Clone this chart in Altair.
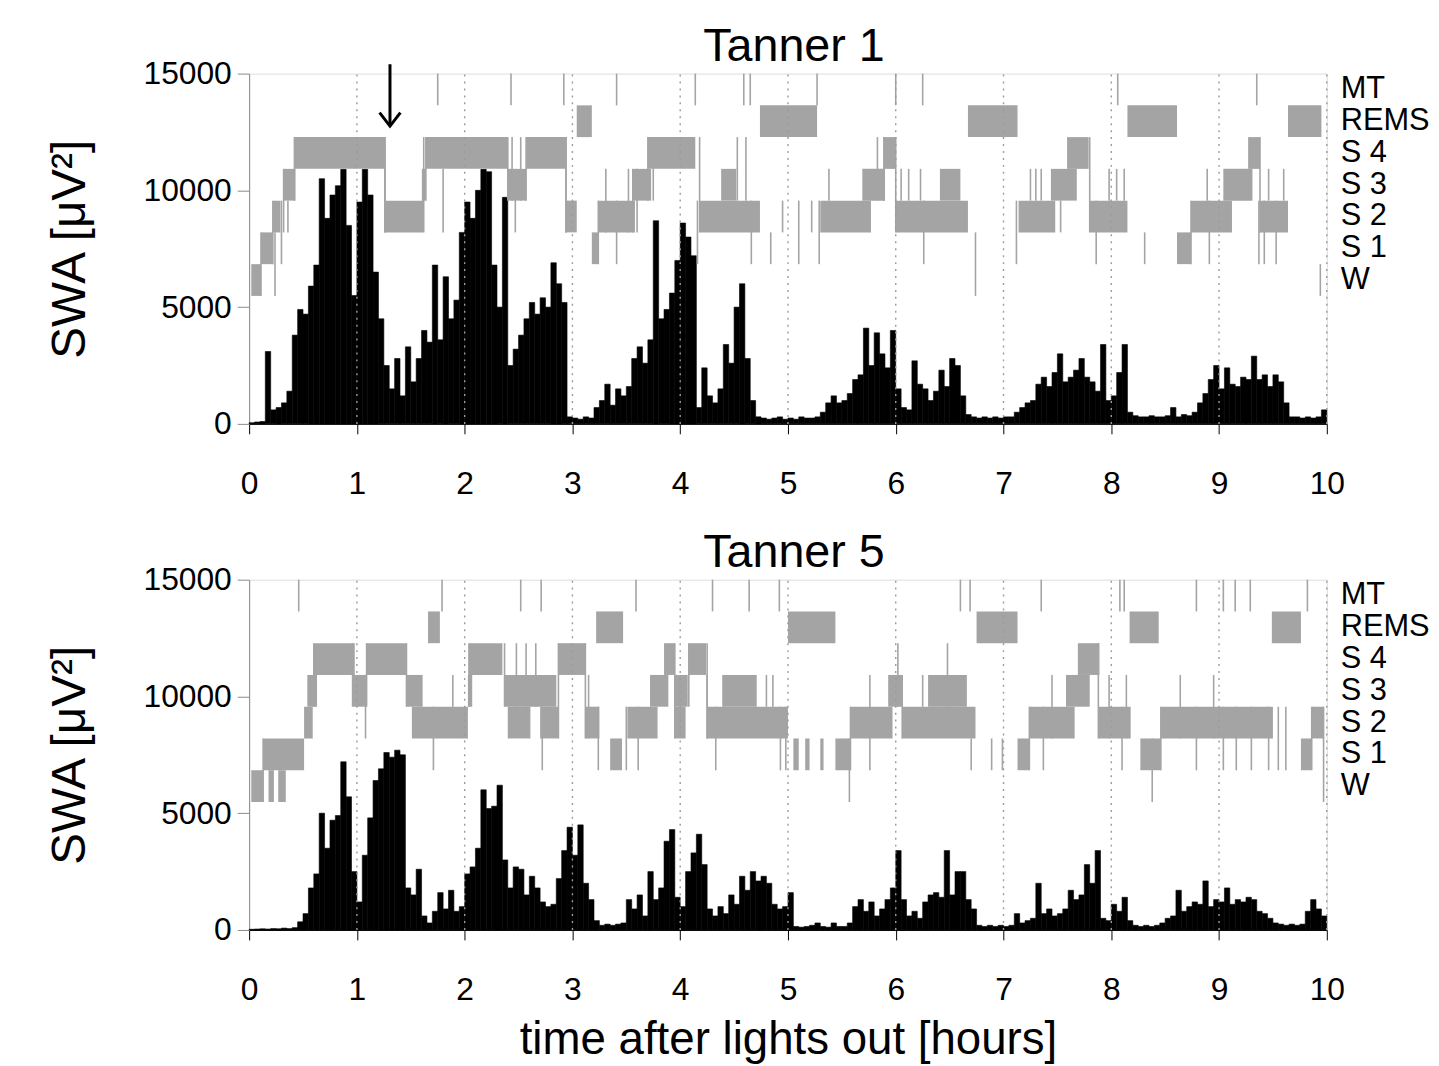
import altair as alt
import pandas as pd

FONT = "Liberation Sans"
GRAY = "#a4a4a4"
BIN = 0.05
HOURS = list(range(0, 11))
GRID_HOURS = list(range(1, 11))
Y_TICKS = [0, 5000, 10000, 15000]
STAGE_NAMES = ["W", "S 1", "S 2", "S 3", "S 4", "REMS", "MT"]
BAND_BASE = 5480
BAND_STEP = 1360

# SWA per 3-minute bin (0.05 h), Tanner 1
swa_tanner1 = [
    50, 80, 100, 3100, 600, 700, 900, 1400, 3800, 4900,
    4700, 5900, 6800, 10500, 8800, 9800, 10200, 10900, 8500, 5500,
    9500, 10900, 9800, 6500, 4500, 2500, 1500, 2800, 1200, 3300,
    1800, 2800, 4000, 3500, 6800, 3600, 6300, 4500, 5300, 8200,
    9500, 8800, 10000, 10900, 10800, 6800, 5000, 9700, 2500, 3200,
    3800, 4500, 5200, 4700, 5400, 5000, 6900, 6000, 5200, 300,
    250, 200, 300, 250, 700, 1000, 1700, 800, 1500, 1200,
    1600, 2800, 3300, 2600, 3600, 8700, 4500, 4900, 5600, 7000,
    8600, 8000, 7200, 700, 2400, 1200, 900, 1500, 3400, 2600,
    5000, 6000, 2800, 1000, 300, 250, 200, 250, 300, 200,
    250, 200, 300, 250, 250, 300, 500, 900, 1200, 900,
    1000, 1300, 1900, 2100, 4100, 2500, 3900, 3000, 2400, 4000,
    1500, 700, 600, 2700, 1700, 1500, 1000, 1400, 2300, 1600,
    2800, 2500, 1200, 400, 300, 250, 300, 250, 300, 250,
    300, 300, 500, 700, 900, 1000, 1700, 2000, 1600, 2200,
    3000, 1800, 2000, 2300, 2800, 2000, 1800, 1400, 3400, 1000,
    1200, 2200, 3400, 500, 350, 300, 300, 350, 300, 300,
    350, 700, 300, 400, 350, 500, 900, 1300, 1900, 2500,
    1500, 2400, 1700, 1600, 2000, 1900, 2900, 1900, 2100, 1600,
    2100, 1800, 900, 300, 300, 250, 300, 250, 300, 600,
]

# SWA per 3-minute bin (0.05 h), Tanner 5
swa_tanner5 = [
    30, 40, 50, 40, 60, 50, 80, 60, 100, 350,
    700, 1800, 2400, 5000, 3500, 4700, 4900, 7200, 5700, 2500,
    1200, 3200, 4800, 6400, 6900, 7600, 7400, 7700, 7500, 1800,
    1500, 2600, 600, 300, 800, 1600, 900, 1700, 800, 1000,
    2400, 2700, 3500, 6000, 5200, 5300, 6200, 3000, 1800, 2700,
    2600, 1500, 2300, 1800, 1200, 1000, 1100, 2200, 3400, 4400,
    3200, 4500, 2000, 1300, 400, 200, 250, 200, 250, 300,
    1300, 900, 1500, 600, 2500, 1300, 1800, 3800, 4300, 1400,
    1000, 2500, 3300, 4100, 2800, 900, 600, 1000, 700, 1500,
    1100, 2300, 1700, 2500, 2100, 2300, 2000, 1100, 900, 1000,
    1600, 150, 120, 150, 200, 300, 150, 120, 300, 150,
    150, 300, 1000, 1300, 800, 1200, 600, 900, 1300, 1800,
    3400, 1300, 600, 800, 500, 1200, 1500, 1600, 1400, 3400,
    1500, 2500, 2500, 1300, 900, 200, 150, 200, 150, 200,
    150, 200, 700, 300, 400, 500, 2000, 700, 900, 600,
    700, 900, 1700, 1300, 1500, 2800, 2000, 3400, 500, 400,
    1100, 800, 1400, 400, 200, 150, 200, 150, 200, 300,
    500, 600, 1700, 800, 1000, 1200, 1100, 2100, 1000, 1300,
    1200, 1800, 1100, 1300, 1200, 1400, 1300, 800, 700, 500,
    300, 250, 200, 250, 200, 250, 800, 1300, 900, 600,
]

# hypnogram blocks: (start h, end h, stage index 0=W .. 5=REMS)
blocks_tanner1 = [
    (0.02, 0.11, 0), (0.11, 0.22, 1), (0.22, 0.29, 2), (0.32, 0.43, 3),
    (0.42, 1.26, 4), (1.26, 1.61, 2), (1.61, 1.64, 3), (1.64, 2.40, 4),
    (2.40, 2.57, 3), (2.57, 2.94, 4), (2.94, 3.04, 2), (3.04, 3.18, 5),
    (3.18, 3.24, 1), (3.24, 3.58, 2), (3.56, 3.73, 3), (3.70, 4.14, 4),
    (4.18, 4.74, 2), (4.38, 4.52, 3), (4.74, 5.27, 5), (5.30, 5.77, 2),
    (5.69, 5.90, 3), (5.89, 6.00, 4), (6.00, 6.67, 2), (6.41, 6.60, 3),
    (6.67, 7.13, 5), (7.14, 7.48, 2), (7.44, 7.68, 3), (7.59, 7.79, 4),
    (7.80, 8.15, 2), (8.15, 8.61, 5), (8.61, 8.74, 1), (8.74, 9.12, 2),
    (9.04, 9.31, 3), (9.27, 9.38, 4), (9.38, 9.64, 2), (9.64, 9.95, 5),
]
# brief epochs / stage changes: (time h, lowest stage, highest stage)
lines_tanner1 = [
    (0.24, 0, 1), (0.30, 1, 2), (0.36, 2, 2), (1.26, 2, 4), (1.62, 2, 4),
    (1.80, 2, 3), (2.44, 3, 4), (2.47, 2, 3), (2.52, 3, 4), (2.94, 2, 4),
    (3.31, 2, 3), (3.41, 1, 2), (3.52, 2, 3), (3.60, 2, 3), (3.75, 3, 4),
    (4.16, 1, 2), (4.18, 2, 4), (4.53, 3, 4), (4.61, 3, 4),
    (4.66, 1, 2), (4.84, 1, 1), (4.95, 2, 2), (5.10, 1, 2), (5.22, 2, 2),
    (5.29, 1, 2), (5.38, 3, 3), (5.83, 3, 4), (6.05, 3, 3), (6.12, 3, 3),
    (6.23, 3, 3), (6.26, 1, 2), (6.74, 0, 1), (7.12, 1, 2), (7.25, 3, 3),
    (7.30, 3, 3), (7.35, 3, 3), (7.53, 2, 2), (7.86, 1, 2), (7.98, 3, 3),
    (8.05, 3, 3), (8.12, 3, 3), (8.31, 1, 1), (8.89, 3, 3), (8.91, 1, 2),
    (9.37, 1, 2), (9.42, 1, 2), (9.46, 3, 3), (9.53, 1, 2), (9.60, 3, 3),
    (9.94, 0, 0),
]
mt_tanner1 = [1.75, 2.43, 2.92, 3.41, 4.14, 4.59, 4.65, 5.27, 6.00, 6.25, 8.06, 9.35]

blocks_tanner5 = [
    (0.02, 0.13, 0), (0.13, 0.51, 1), (0.18, 0.23, 0), (0.27, 0.34, 0),
    (0.51, 0.59, 2), (0.54, 0.63, 3), (0.60, 0.98, 4), (0.96, 1.09, 3),
    (1.09, 1.46, 4), (1.46, 1.61, 3), (1.51, 2.03, 2), (1.66, 1.77, 5),
    (2.03, 2.07, 3), (2.04, 2.35, 4), (2.37, 2.85, 3), (2.40, 2.61, 2),
    (2.70, 2.87, 2), (2.87, 3.12, 4), (3.12, 3.25, 2), (3.22, 3.47, 5),
    (3.35, 3.46, 1), (3.51, 3.79, 2), (3.72, 3.89, 3), (3.85, 3.95, 4),
    (3.95, 4.05, 2), (3.95, 4.07, 3), (4.08, 4.24, 4), (4.25, 5.00, 2),
    (4.39, 4.71, 3), (5.00, 5.44, 5), (5.05, 5.10, 1), (5.16, 5.20, 1),
    (5.30, 5.33, 1), (5.44, 5.58, 1), (5.58, 5.97, 2), (5.93, 6.06, 3),
    (6.06, 6.74, 2), (6.30, 6.66, 3), (6.75, 7.13, 5), (7.13, 7.24, 1),
    (7.24, 7.66, 2), (7.58, 7.80, 3), (7.69, 7.89, 4), (7.88, 8.18, 2),
    (8.17, 8.44, 5), (8.27, 8.46, 1), (8.46, 9.50, 2), (9.49, 9.76, 5),
    (9.76, 9.86, 1), (9.86, 9.97, 2),
]
lines_tanner5 = [
    (1.08, 2, 3), (1.71, 1, 2), (1.89, 3, 3), (2.48, 3, 4), (2.57, 3, 4),
    (2.66, 3, 4), (2.72, 1, 2), (3.15, 2, 3), (3.24, 1, 2), (3.50, 1, 2),
    (3.61, 1, 2), (4.25, 2, 3), (4.33, 1, 2), (4.80, 3, 3), (4.86, 3, 3),
    (4.93, 1, 2), (4.98, 1, 2), (5.57, 0, 1), (5.76, 1, 3), (6.02, 3, 4),
    (6.25, 3, 3), (6.48, 3, 4), (6.70, 1, 1), (6.89, 1, 1), (6.99, 1, 1),
    (7.37, 1, 2), (7.45, 2, 3), (7.98, 2, 3), (8.10, 1, 2), (8.14, 2, 3),
    (8.38, 0, 1), (8.64, 2, 3), (8.79, 1, 2), (8.95, 2, 3), (9.04, 1, 2),
    (9.16, 1, 2), (9.30, 1, 2), (9.46, 1, 2), (9.55, 1, 2), (9.62, 1, 2),
    (9.97, 0, 2),
]
mt_tanner5 = [0.46, 1.79, 2.52, 2.71, 3.59, 4.30, 4.64, 4.92, 6.60, 6.69,
              7.35, 8.08, 8.12, 8.79, 9.04, 9.15, 9.29, 9.82]

ARROW_TIME = 1.307
ARROW_TOP = 15400
ARROW_TIP = 12750

W, H = 1086, 353


def band(k):
    lo = BAND_BASE + BAND_STEP * k
    return lo, lo + BAND_STEP


def transitions(blocks):
    """Vertical connectors where one non-REM block directly follows another."""
    srt = sorted(blocks)
    out = []
    for a, b in zip(srt, srt[1:]):
        if a[2] != b[2] and a[2] < 5 and b[2] < 5 and abs(b[0] - a[1]) < 0.04:
            out.append((b[0], min(a[2], b[2]), max(a[2], b[2])))
    return out


def make_panel(title, swa, blocks, lines, mt, x_title, with_arrow):
    xs = alt.Scale(domain=[0, 10], nice=False, zero=False)
    ys = alt.Scale(domain=[0, 15000], nice=False)

    swa_df = pd.DataFrame({
        "t0": [round(i * BIN, 4) for i in range(len(swa))],
        "t1": [round((i + 1) * BIN, 4) for i in range(len(swa))],
        "v": swa,
        "v2": [0] * len(swa),
    })
    blk_df = pd.DataFrame({
        "t0": [b[0] for b in blocks],
        "t1": [b[1] for b in blocks],
        "v": [band(b[2])[0] for b in blocks],
        "v2": [band(b[2])[1] for b in blocks],
    })
    all_lines = list(lines) + transitions(blocks)
    ln_df = pd.DataFrame({
        "t0": [l[0] for l in all_lines],
        "v": [band(l[1])[0] for l in all_lines],
        "v2": [band(l[2])[1] for l in all_lines],
    })
    mt_df = pd.DataFrame({
        "t0": mt,
        "v": [band(6)[0]] * len(mt),
        "v2": [band(6)[1]] * len(mt),
    })
    grid_df = pd.DataFrame({"t0": GRID_HOURS, "v": [0] * len(GRID_HOURS),
                            "v2": [15000] * len(GRID_HOURS)})
    lab_df = pd.DataFrame({
        "label": STAGE_NAMES,
        "v": [band(k)[0] + BAND_STEP / 2 for k in range(len(STAGE_NAMES))],
    })

    xaxis = alt.Axis(values=HOURS, format="d", tickSize=10, tickColor="black",
                     domainColor="black", labelFontSize=32, labelPadding=35,
                     labelFlush=False,
                     labelFont=FONT, titleFont=FONT, titleFontSize=46,
                     titleFontWeight="normal", titlePadding=12, titleColor="black",
                     labelColor="black", grid=False)
    yaxis = alt.Axis(values=Y_TICKS, format="d", tickSize=12, tickColor="#8a8a8a",
                     domainColor="#8a8a8a", labelFontSize=32, labelPadding=6,
                     labelFlush=False,
                     labelFont=FONT, titleFont=FONT, titleFontSize=48,
                     titleFontWeight="normal", titlePadding=49, titleColor="black",
                     labelColor="black", grid=False)

    x_enc = alt.X("t0:Q", scale=xs, axis=xaxis, title=x_title)
    y_enc = alt.Y("v:Q", scale=ys, axis=yaxis, title="SWA [μV²]")

    bars = alt.Chart(swa_df).mark_rect(color="black", stroke="black", strokeWidth=0.6).encode(
        x=x_enc, x2="t1:Q", y=y_enc, y2="v2:Q")
    blk = alt.Chart(blk_df).mark_rect(color=GRAY).encode(x=x_enc, x2="t1:Q", y=y_enc, y2="v2:Q")
    lns = alt.Chart(ln_df).mark_rule(color=GRAY, strokeWidth=1.6).encode(x=x_enc, y=y_enc, y2="v2:Q")
    mts = alt.Chart(mt_df).mark_rule(color=GRAY, strokeWidth=1.6).encode(x=x_enc, y=y_enc, y2="v2:Q")
    grid = alt.Chart(grid_df).mark_rule(color="#9a9a9a", strokeWidth=1.4,
                                         strokeDash=[2, 5]).encode(x=x_enc, y=y_enc, y2="v2:Q")
    labs = alt.Chart(lab_df).mark_text(align="left", baseline="middle", fontSize=31,
                                       font=FONT, color="black").encode(
        x=alt.value(W + 14), y=y_enc, text="label:N")
    layers = [bars, blk, lns, mts, grid, labs]
    if with_arrow:
        arr_df = pd.DataFrame({"t0": [ARROW_TIME], "v": [ARROW_TOP], "v2": [ARROW_TIP]})
        shaft = alt.Chart(arr_df).mark_rule(color="black", strokeWidth=3).encode(
            x=x_enc, y=y_enc, y2="v2:Q")
        tip_df = pd.DataFrame({"t0": [ARROW_TIME], "v": [ARROW_TIP]})
        head = alt.Chart(tip_df).mark_point(shape="M-1,-1.3L0,0L1,-1.3", size=441,
                                            filled=False, strokeWidth=3, color="black",
                                            opacity=1).encode(x=x_enc, y=y_enc)
        layers += [shaft, head]
    return alt.layer(*layers).properties(
        width=W, height=H,
        title=alt.TitleParams(title, fontSize=47, font=FONT, fontWeight="normal",
                              color="black", offset=-13, dx=6))


top = make_panel("Tanner 1", swa_tanner1, blocks_tanner1, lines_tanner1, mt_tanner1,
                 None, True)
bottom = make_panel("Tanner 5", swa_tanner5, blocks_tanner5, lines_tanner5, mt_tanner5,
                    "time after lights out [hours]", False)

chart = alt.vconcat(top, bottom, spacing=28).properties(
    padding={"left": 38, "top": 10, "right": 0, "bottom": 0}
).configure_view(stroke=None).configure(background="white")

chart.save("out.html", embed_options={"renderer": "svg", "actions": False})
